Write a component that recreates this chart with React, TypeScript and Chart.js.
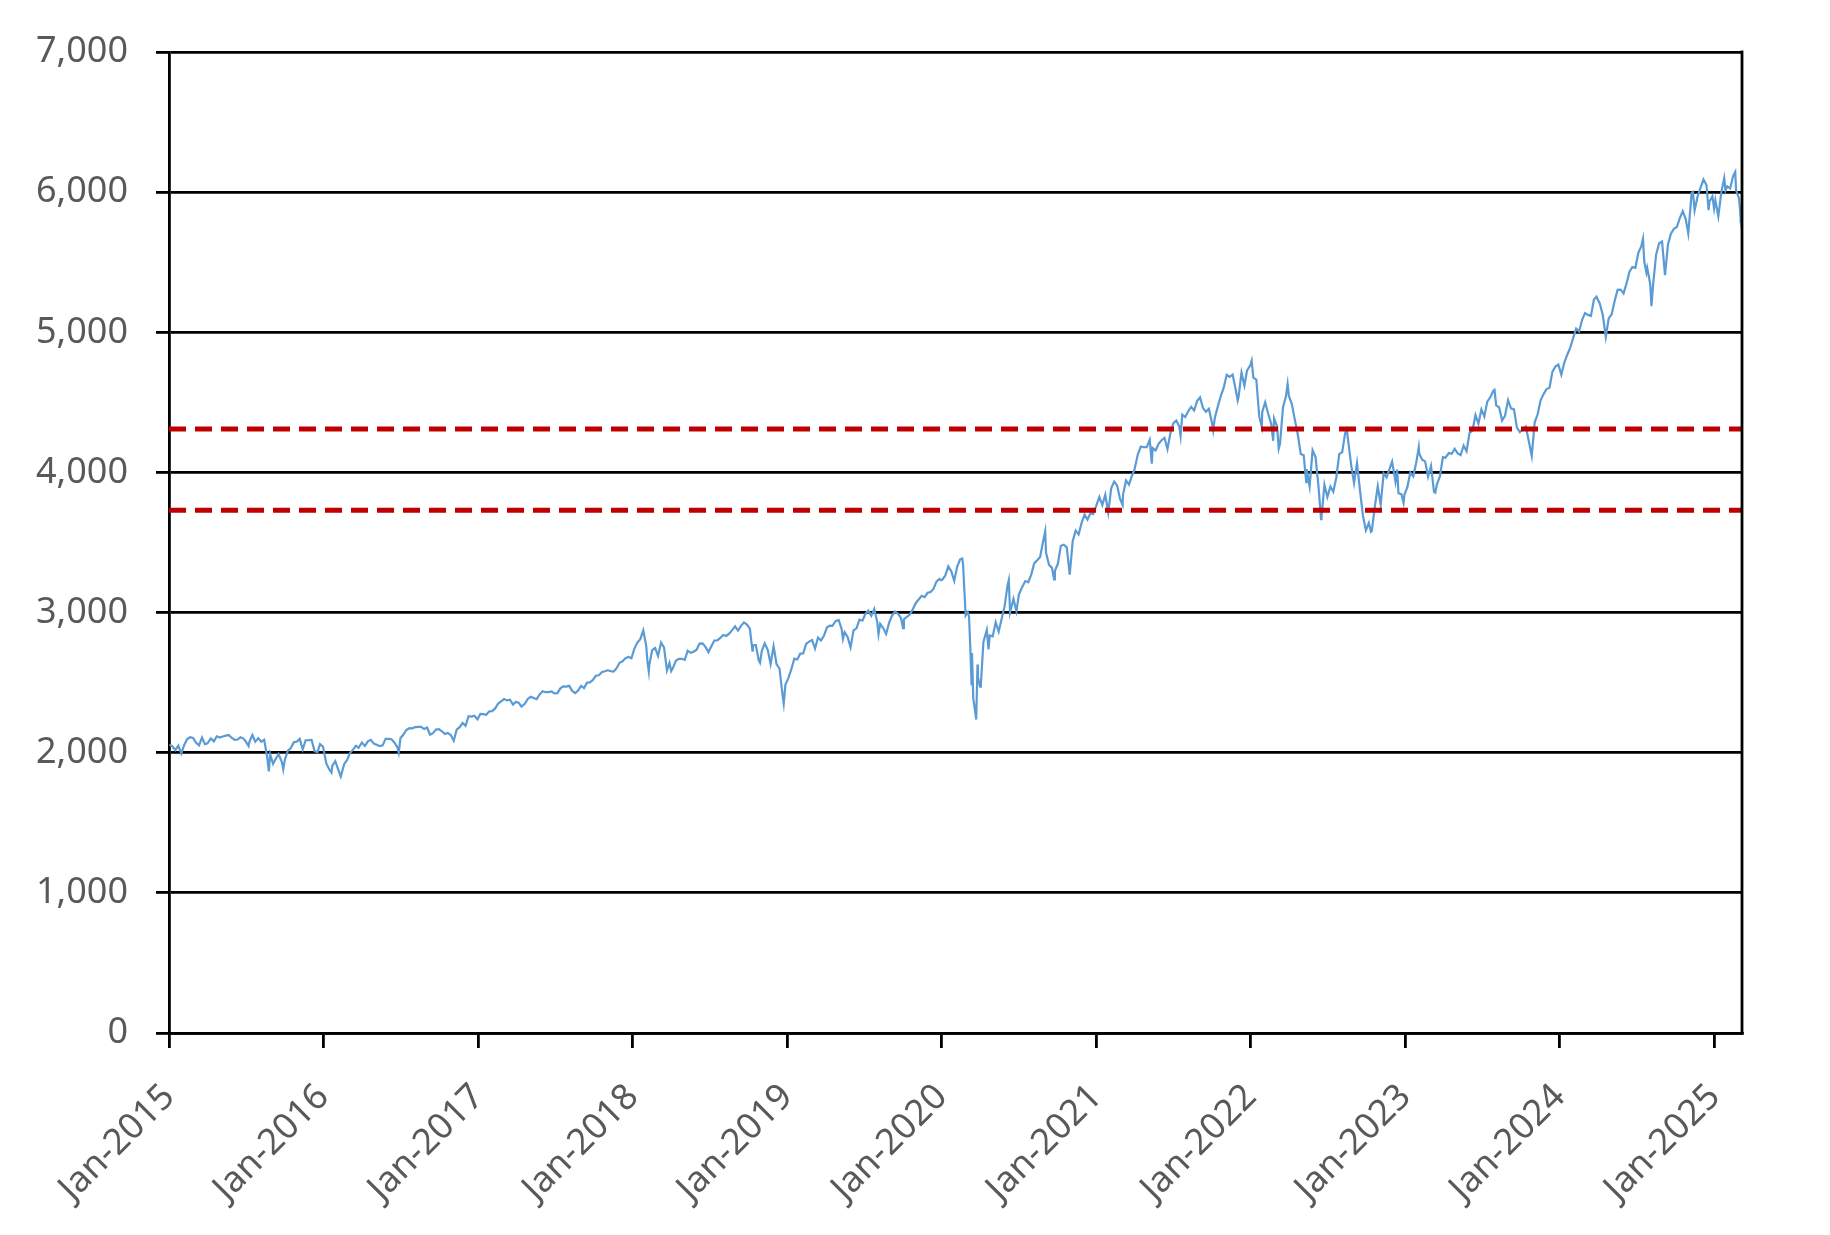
import React, { useEffect, useRef } from "react";
import { Chart, registerables } from "chart.js";

Chart.register(...registerables);

// ---- data ----
const yearTicks = [2015, 2016, 2017, 2018, 2019, 2020, 2021, 2022, 2023, 2024, 2025];
const yMin = 0;
const yMax = 7000;
const yStep = 1000;
const thresholdUpper = 4310;
const thresholdLower = 3730;
const xStart = "2015-01-01";
const xEnd = "2025-03-07";

const sp2015: [string, number][] = [
  ["2015-01-02", 2058], ["2015-01-09", 2045], ["2015-01-16", 2019], ["2015-01-23", 2051], ["2015-01-30", 1995],
  ["2015-02-06", 2055], ["2015-02-13", 2097], ["2015-02-20", 2110], ["2015-02-27", 2105], ["2015-03-06", 2071],
  ["2015-03-13", 2053], ["2015-03-20", 2108], ["2015-03-27", 2061], ["2015-04-02", 2067], ["2015-04-10", 2102],
  ["2015-04-17", 2081], ["2015-04-24", 2117], ["2015-05-01", 2108], ["2015-05-08", 2116], ["2015-05-15", 2122],
  ["2015-05-22", 2126], ["2015-05-29", 2107], ["2015-06-05", 2092], ["2015-06-12", 2094], ["2015-06-19", 2110],
  ["2015-06-26", 2101], ["2015-07-02", 2077], ["2015-07-08", 2047], ["2015-07-10", 2077], ["2015-07-17", 2126],
  ["2015-07-24", 2079], ["2015-07-31", 2104], ["2015-08-07", 2078], ["2015-08-14", 2092], ["2015-08-21", 1971],
  ["2015-08-25", 1867], ["2015-08-28", 1989], ["2015-09-04", 1921], ["2015-09-11", 1961], ["2015-09-17", 1990],
  ["2015-09-25", 1931], ["2015-09-28", 1881], ["2015-10-02", 1951], ["2015-10-09", 2015], ["2015-10-16", 2033],
  ["2015-10-23", 2075], ["2015-10-30", 2079], ["2015-11-06", 2099], ["2015-11-13", 2023], ["2015-11-20", 2089],
  ["2015-11-27", 2090], ["2015-12-04", 2092], ["2015-12-11", 2012], ["2015-12-18", 2005], ["2015-12-24", 2061],
  ["2015-12-31", 2044],
];

const sp2016: [string, number][] = [
  ["2016-01-08", 1922], ["2016-01-15", 1880], ["2016-01-20", 1859], ["2016-01-22", 1907], ["2016-01-29", 1940],
  ["2016-02-05", 1880], ["2016-02-11", 1829], ["2016-02-19", 1918], ["2016-02-26", 1948], ["2016-03-04", 1999],
  ["2016-03-11", 2022], ["2016-03-18", 2050], ["2016-03-24", 2035], ["2016-04-01", 2073], ["2016-04-08", 2048],
  ["2016-04-15", 2081], ["2016-04-22", 2092], ["2016-04-29", 2065], ["2016-05-06", 2057], ["2016-05-13", 2047],
  ["2016-05-20", 2052], ["2016-05-27", 2099], ["2016-06-03", 2099], ["2016-06-10", 2096], ["2016-06-17", 2071],
  ["2016-06-24", 2037], ["2016-06-27", 2001], ["2016-07-01", 2103], ["2016-07-08", 2130], ["2016-07-15", 2162],
  ["2016-07-22", 2175], ["2016-07-29", 2174], ["2016-08-05", 2183], ["2016-08-12", 2184], ["2016-08-19", 2184],
  ["2016-08-26", 2169], ["2016-09-02", 2180], ["2016-09-09", 2128], ["2016-09-16", 2139], ["2016-09-23", 2165],
  ["2016-09-30", 2168], ["2016-10-07", 2153], ["2016-10-14", 2133], ["2016-10-21", 2141], ["2016-10-28", 2126],
  ["2016-11-04", 2085], ["2016-11-11", 2164], ["2016-11-18", 2182], ["2016-11-25", 2213], ["2016-12-02", 2192],
  ["2016-12-09", 2260], ["2016-12-16", 2258], ["2016-12-23", 2264], ["2016-12-30", 2239],
];

const sp2017: [string, number][] = [
  ["2017-01-06", 2277], ["2017-01-13", 2275], ["2017-01-20", 2271], ["2017-01-27", 2295], ["2017-02-03", 2297],
  ["2017-02-10", 2316], ["2017-02-17", 2351], ["2017-02-24", 2367], ["2017-03-03", 2383], ["2017-03-10", 2373],
  ["2017-03-17", 2378], ["2017-03-24", 2344], ["2017-03-31", 2363], ["2017-04-07", 2355], ["2017-04-13", 2329],
  ["2017-04-21", 2349], ["2017-04-28", 2384], ["2017-05-05", 2399], ["2017-05-12", 2391], ["2017-05-19", 2382],
  ["2017-05-26", 2416], ["2017-06-02", 2439], ["2017-06-09", 2432], ["2017-06-16", 2433], ["2017-06-23", 2438],
  ["2017-06-30", 2423], ["2017-07-07", 2425], ["2017-07-14", 2459], ["2017-07-21", 2473], ["2017-07-28", 2472],
  ["2017-08-04", 2477], ["2017-08-11", 2441], ["2017-08-18", 2425], ["2017-08-25", 2443], ["2017-09-01", 2477],
  ["2017-09-08", 2461], ["2017-09-15", 2500], ["2017-09-22", 2502], ["2017-09-29", 2519], ["2017-10-06", 2549],
  ["2017-10-13", 2553], ["2017-10-20", 2575], ["2017-10-27", 2581], ["2017-11-03", 2588], ["2017-11-10", 2582],
  ["2017-11-17", 2579], ["2017-11-24", 2603], ["2017-12-01", 2642], ["2017-12-08", 2652], ["2017-12-15", 2675],
  ["2017-12-22", 2683], ["2017-12-29", 2674],
];

const sp2018: [string, number][] = [
  ["2018-01-05", 2743], ["2018-01-12", 2786], ["2018-01-19", 2810], ["2018-01-26", 2873], ["2018-02-02", 2762],
  ["2018-02-05", 2649], ["2018-02-08", 2581], ["2018-02-09", 2620], ["2018-02-16", 2732], ["2018-02-23", 2747],
  ["2018-03-02", 2691], ["2018-03-09", 2786], ["2018-03-16", 2752], ["2018-03-23", 2588], ["2018-03-29", 2641],
  ["2018-04-02", 2582], ["2018-04-06", 2604], ["2018-04-13", 2656], ["2018-04-20", 2670], ["2018-04-27", 2670],
  ["2018-05-04", 2663], ["2018-05-11", 2728], ["2018-05-18", 2713], ["2018-05-25", 2721], ["2018-06-01", 2735],
  ["2018-06-08", 2779], ["2018-06-15", 2780], ["2018-06-22", 2755], ["2018-06-29", 2718], ["2018-07-06", 2760],
  ["2018-07-13", 2801], ["2018-07-20", 2802], ["2018-07-27", 2819], ["2018-08-03", 2840], ["2018-08-10", 2833],
  ["2018-08-17", 2850], ["2018-08-24", 2875], ["2018-08-31", 2902], ["2018-09-07", 2872], ["2018-09-14", 2905],
  ["2018-09-21", 2930], ["2018-09-28", 2914], ["2018-10-05", 2885], ["2018-10-11", 2728], ["2018-10-12", 2767],
  ["2018-10-19", 2768], ["2018-10-26", 2658], ["2018-10-29", 2641], ["2018-11-02", 2723], ["2018-11-09", 2781],
  ["2018-11-16", 2736], ["2018-11-23", 2633], ["2018-11-30", 2760], ["2018-12-07", 2633], ["2018-12-14", 2600],
  ["2018-12-21", 2417], ["2018-12-24", 2351], ["2018-12-28", 2486],
];

const sp2019: [string, number][] = [
  ["2019-01-04", 2532], ["2019-01-11", 2596], ["2019-01-18", 2671], ["2019-01-25", 2665], ["2019-02-01", 2707],
  ["2019-02-08", 2708], ["2019-02-15", 2776], ["2019-02-22", 2793], ["2019-03-01", 2804], ["2019-03-08", 2743],
  ["2019-03-15", 2822], ["2019-03-22", 2801], ["2019-03-29", 2834], ["2019-04-05", 2893], ["2019-04-12", 2907],
  ["2019-04-18", 2905], ["2019-04-26", 2940], ["2019-05-03", 2946], ["2019-05-10", 2881], ["2019-05-13", 2812],
  ["2019-05-17", 2860], ["2019-05-24", 2826], ["2019-05-31", 2752], ["2019-06-07", 2873], ["2019-06-14", 2887],
  ["2019-06-21", 2950], ["2019-06-28", 2942], ["2019-07-05", 2990], ["2019-07-12", 3014], ["2019-07-19", 2977],
  ["2019-07-26", 3026], ["2019-08-02", 2932], ["2019-08-05", 2845], ["2019-08-09", 2919], ["2019-08-16", 2889],
  ["2019-08-23", 2847], ["2019-08-30", 2926], ["2019-09-06", 2979], ["2019-09-13", 3007], ["2019-09-20", 2992],
  ["2019-09-27", 2962], ["2019-10-02", 2888], ["2019-10-04", 2952], ["2019-10-11", 2970], ["2019-10-18", 2986],
  ["2019-10-25", 3023], ["2019-11-01", 3067], ["2019-11-08", 3093], ["2019-11-15", 3120], ["2019-11-22", 3110],
  ["2019-11-29", 3141], ["2019-12-06", 3146], ["2019-12-13", 3169], ["2019-12-20", 3221], ["2019-12-27", 3240],
  ["2019-12-31", 3231],
];

const sp2020: [string, number][] = [
  ["2020-01-03", 3235], ["2020-01-10", 3265], ["2020-01-17", 3330], ["2020-01-24", 3295], ["2020-01-31", 3226],
  ["2020-02-07", 3328], ["2020-02-14", 3380], ["2020-02-19", 3386], ["2020-02-21", 3338], ["2020-02-27", 2979],
  ["2020-03-03", 3003], ["2020-03-06", 2972], ["2020-03-09", 2747], ["2020-03-12", 2481], ["2020-03-13", 2711],
  ["2020-03-16", 2386], ["2020-03-20", 2305], ["2020-03-23", 2237], ["2020-03-26", 2630], ["2020-03-27", 2541],
  ["2020-04-01", 2471], ["2020-04-03", 2489], ["2020-04-09", 2790], ["2020-04-17", 2875], ["2020-04-21", 2737],
  ["2020-04-24", 2837], ["2020-05-01", 2831], ["2020-05-08", 2930], ["2020-05-15", 2864], ["2020-05-22", 2955],
  ["2020-05-29", 3044], ["2020-06-05", 3194], ["2020-06-08", 3232], ["2020-06-11", 3002], ["2020-06-19", 3098],
  ["2020-06-26", 3009], ["2020-07-02", 3130], ["2020-07-10", 3185], ["2020-07-17", 3225], ["2020-07-24", 3216],
  ["2020-07-31", 3271], ["2020-08-07", 3351], ["2020-08-14", 3373], ["2020-08-21", 3397], ["2020-08-28", 3508],
  ["2020-09-02", 3580], ["2020-09-04", 3427], ["2020-09-11", 3341], ["2020-09-18", 3319], ["2020-09-23", 3237],
  ["2020-09-25", 3298], ["2020-10-02", 3348], ["2020-10-09", 3477], ["2020-10-16", 3484], ["2020-10-23", 3465],
  ["2020-10-30", 3270], ["2020-11-06", 3510], ["2020-11-13", 3585], ["2020-11-20", 3558], ["2020-11-27", 3638],
  ["2020-12-04", 3699], ["2020-12-11", 3663], ["2020-12-18", 3710], ["2020-12-24", 3703], ["2020-12-31", 3756],
];

const sp2021: [string, number][] = [
  ["2021-01-08", 3825], ["2021-01-15", 3768], ["2021-01-22", 3841], ["2021-01-29", 3714], ["2021-02-05", 3887],
  ["2021-02-12", 3935], ["2021-02-19", 3907], ["2021-02-26", 3811], ["2021-03-04", 3768], ["2021-03-05", 3842],
  ["2021-03-12", 3943], ["2021-03-19", 3913], ["2021-03-26", 3975], ["2021-04-01", 4020], ["2021-04-09", 4129],
  ["2021-04-16", 4185], ["2021-04-23", 4180], ["2021-04-30", 4181], ["2021-05-07", 4233], ["2021-05-12", 4063],
  ["2021-05-14", 4174], ["2021-05-21", 4156], ["2021-05-28", 4204], ["2021-06-04", 4230], ["2021-06-11", 4247],
  ["2021-06-18", 4166], ["2021-06-25", 4281], ["2021-07-02", 4352], ["2021-07-09", 4370], ["2021-07-16", 4327],
  ["2021-07-19", 4259], ["2021-07-23", 4412], ["2021-07-30", 4395], ["2021-08-06", 4437], ["2021-08-13", 4468],
  ["2021-08-20", 4442], ["2021-08-27", 4509], ["2021-09-03", 4535], ["2021-09-10", 4459], ["2021-09-17", 4433],
  ["2021-09-24", 4455], ["2021-10-01", 4357], ["2021-10-04", 4300], ["2021-10-08", 4391], ["2021-10-15", 4471],
  ["2021-10-22", 4545], ["2021-10-29", 4605], ["2021-11-05", 4697], ["2021-11-12", 4682], ["2021-11-19", 4698],
  ["2021-11-26", 4595], ["2021-12-01", 4513], ["2021-12-03", 4538], ["2021-12-10", 4712], ["2021-12-17", 4620],
  ["2021-12-23", 4726], ["2021-12-31", 4766],
];

const sp2022: [string, number][] = [
  ["2022-01-03", 4797], ["2022-01-07", 4677], ["2022-01-14", 4663], ["2022-01-21", 4398], ["2022-01-27", 4327],
  ["2022-01-28", 4432], ["2022-02-04", 4501], ["2022-02-11", 4419], ["2022-02-18", 4349], ["2022-02-23", 4226],
  ["2022-02-25", 4385], ["2022-03-04", 4329], ["2022-03-08", 4170], ["2022-03-11", 4204], ["2022-03-18", 4463],
  ["2022-03-25", 4543], ["2022-03-29", 4632], ["2022-04-01", 4546], ["2022-04-08", 4488], ["2022-04-14", 4393],
  ["2022-04-22", 4272], ["2022-04-29", 4132], ["2022-05-06", 4123], ["2022-05-12", 3930], ["2022-05-13", 4023],
  ["2022-05-20", 3901], ["2022-05-27", 4158], ["2022-06-03", 4109], ["2022-06-10", 3901], ["2022-06-16", 3667],
  ["2022-06-17", 3675], ["2022-06-24", 3912], ["2022-07-01", 3825], ["2022-07-08", 3899], ["2022-07-15", 3863],
  ["2022-07-22", 3962], ["2022-07-29", 4130], ["2022-08-05", 4145], ["2022-08-12", 4280], ["2022-08-16", 4305],
  ["2022-08-19", 4228], ["2022-08-26", 4058], ["2022-09-02", 3924], ["2022-09-09", 4067], ["2022-09-16", 3873],
  ["2022-09-23", 3693], ["2022-09-30", 3586], ["2022-10-07", 3640], ["2022-10-12", 3577], ["2022-10-14", 3583],
  ["2022-10-21", 3752], ["2022-10-28", 3901], ["2022-11-04", 3771], ["2022-11-11", 3993], ["2022-11-18", 3965],
  ["2022-11-25", 4026], ["2022-12-01", 4077], ["2022-12-09", 3934], ["2022-12-13", 4020], ["2022-12-16", 3852],
  ["2022-12-23", 3845], ["2022-12-28", 3783], ["2022-12-30", 3840],
];

const sp2023: [string, number][] = [
  ["2023-01-06", 3895], ["2023-01-13", 3999], ["2023-01-20", 3973], ["2023-01-27", 4070], ["2023-02-02", 4180],
  ["2023-02-03", 4136], ["2023-02-10", 4090], ["2023-02-17", 4079], ["2023-02-24", 3970], ["2023-03-03", 4046],
  ["2023-03-10", 3862], ["2023-03-13", 3856], ["2023-03-17", 3917], ["2023-03-24", 3971], ["2023-03-31", 4109],
  ["2023-04-06", 4105], ["2023-04-14", 4138], ["2023-04-21", 4133], ["2023-04-28", 4169], ["2023-05-05", 4136],
  ["2023-05-12", 4124], ["2023-05-19", 4192], ["2023-05-26", 4151], ["2023-06-02", 4282], ["2023-06-09", 4299],
  ["2023-06-16", 4410], ["2023-06-23", 4348], ["2023-06-30", 4450], ["2023-07-07", 4399], ["2023-07-14", 4505],
  ["2023-07-21", 4536], ["2023-07-28", 4582], ["2023-07-31", 4589], ["2023-08-04", 4478], ["2023-08-11", 4464],
  ["2023-08-18", 4370], ["2023-08-25", 4406], ["2023-09-01", 4516], ["2023-09-08", 4457], ["2023-09-15", 4450],
  ["2023-09-22", 4320], ["2023-09-29", 4288], ["2023-10-06", 4309], ["2023-10-13", 4327], ["2023-10-20", 4224],
  ["2023-10-27", 4117], ["2023-11-03", 4358], ["2023-11-10", 4415], ["2023-11-17", 4514], ["2023-11-24", 4559],
  ["2023-12-01", 4595], ["2023-12-08", 4604], ["2023-12-15", 4719], ["2023-12-22", 4755], ["2023-12-29", 4770],
];

const sp2024: [string, number][] = [
  ["2024-01-05", 4697], ["2024-01-12", 4784], ["2024-01-19", 4840], ["2024-01-26", 4891], ["2024-02-02", 4959],
  ["2024-02-09", 5027], ["2024-02-16", 5006], ["2024-02-23", 5089], ["2024-03-01", 5137], ["2024-03-08", 5124],
  ["2024-03-15", 5117], ["2024-03-22", 5234], ["2024-03-28", 5254], ["2024-04-05", 5204], ["2024-04-12", 5123],
  ["2024-04-19", 4967], ["2024-04-26", 5100], ["2024-05-03", 5128], ["2024-05-10", 5223], ["2024-05-17", 5303],
  ["2024-05-24", 5305], ["2024-05-31", 5278], ["2024-06-07", 5347], ["2024-06-14", 5432], ["2024-06-21", 5465],
  ["2024-06-28", 5460], ["2024-07-05", 5567], ["2024-07-12", 5615], ["2024-07-16", 5667], ["2024-07-19", 5505],
  ["2024-07-24", 5427], ["2024-07-26", 5459], ["2024-08-02", 5346], ["2024-08-05", 5186], ["2024-08-09", 5344],
  ["2024-08-16", 5554], ["2024-08-23", 5634], ["2024-08-30", 5648], ["2024-09-06", 5408], ["2024-09-13", 5626],
  ["2024-09-20", 5703], ["2024-09-27", 5738], ["2024-10-04", 5751], ["2024-10-11", 5815], ["2024-10-18", 5864],
  ["2024-10-25", 5808], ["2024-10-31", 5705], ["2024-11-08", 5995], ["2024-11-11", 6001], ["2024-11-15", 5870],
  ["2024-11-22", 5969], ["2024-11-29", 6032], ["2024-12-06", 6090], ["2024-12-13", 6051], ["2024-12-18", 5872],
  ["2024-12-20", 5931], ["2024-12-27", 5971], ["2024-12-31", 5882],
];

const sp2025: [string, number][] = [
  ["2025-01-03", 5942], ["2025-01-10", 5827], ["2025-01-17", 5997], ["2025-01-24", 6101], ["2025-01-27", 6012],
  ["2025-01-31", 6041], ["2025-02-07", 6026], ["2025-02-14", 6115], ["2025-02-19", 6144], ["2025-02-21", 6013],
  ["2025-02-28", 5955], ["2025-03-03", 5850], ["2025-03-04", 5778], ["2025-03-05", 5842], ["2025-03-06", 5739],
  ["2025-03-07", 5770],
];

// ---- helpers ----
const dayNum = (s: string) => Date.parse(s + "T00:00:00Z") / 86400000;
const seriesPoints = [...sp2015, ...sp2016, ...sp2017, ...sp2018, ...sp2019, ...sp2020, ...sp2021, ...sp2022, ...sp2023, ...sp2024, ...sp2025]
  .map(([d, v]) => ({ x: dayNum(d), y: v }));

const LABEL_FONT = { family: "'Noto Sans', sans-serif", size: 36 };
const LABEL_COLOR = "#595959";
const AXIS_COLOR = "#000000";
const GRID_WIDTH = 2.8;

const rightBorderPlugin = {
  id: "rightBorder",
  afterDatasetsDraw(chart: any) {
    const { ctx, chartArea } = chart;
    ctx.save();
    ctx.strokeStyle = AXIS_COLOR;
    ctx.lineWidth = GRID_WIDTH;
    ctx.beginPath();
    ctx.moveTo(chartArea.right, chartArea.top - GRID_WIDTH / 2);
    ctx.lineTo(chartArea.right, chartArea.bottom + GRID_WIDTH / 2);
    ctx.stroke();
    ctx.restore();
  },
};

export default function App() {
  const canvasRef = useRef<HTMLCanvasElement | null>(null);

  useEffect(() => {
    if (!canvasRef.current) return;
    const x0 = dayNum(xStart);
    const x1 = dayNum(xEnd);
    const chart = new Chart(canvasRef.current, {
      type: "line",
      data: {
        datasets: [
          {
            label: "upper",
            data: [{ x: x0, y: thresholdUpper }, { x: x1, y: thresholdUpper }],
            borderColor: "#C00000",
            borderWidth: 5,
            borderDash: [17, 9],
            pointRadius: 0,
            order: 0,
          },
          {
            label: "lower",
            data: [{ x: x0, y: thresholdLower }, { x: x1, y: thresholdLower }],
            borderColor: "#C00000",
            borderWidth: 5,
            borderDash: [17, 9],
            pointRadius: 0,
            order: 0,
          },
          {
            label: "S&P 500",
            data: seriesPoints,
            borderColor: "#5B9BD5",
            borderWidth: 2.2,
            pointRadius: 0,
            tension: 0,
            order: 1,
          },
        ],
      },
      options: {
        animation: false,
        responsive: false,
        devicePixelRatio: 1,
        layout: { padding: { left: 0, top: 52, right: 88, bottom: 0 } },
        plugins: { legend: { display: false }, tooltip: { enabled: false } },
        scales: {
          x: {
            type: "linear",
            min: x0,
            max: x1,
            afterBuildTicks: (scale: any) => {
              scale.ticks = yearTicks.map((y) => ({ value: dayNum(`${y}-01-01`) }));
            },
            afterFit: (scale: any) => {
              scale.height = 1235 - 1033;
            },
            ticks: {
              autoSkip: false,
              minRotation: 45,
              maxRotation: 45,
              padding: 28,
              color: LABEL_COLOR,
              font: LABEL_FONT,
              callback: (v: any) => "Jan-" + new Date(Number(v) * 86400000).getUTCFullYear(),
            },
            grid: {
              drawOnChartArea: false,
              drawTicks: true,
              tickLength: 15,
              color: AXIS_COLOR,
              lineWidth: GRID_WIDTH,
            },
            border: { display: true, color: AXIS_COLOR, width: GRID_WIDTH },
          },
          y: {
            min: yMin,
            max: yMax,
            afterFit: (scale: any) => {
              scale.width = 169;
            },
            ticks: {
              stepSize: yStep,
              padding: 28,
              color: LABEL_COLOR,
              font: LABEL_FONT,
              callback: (v: any) => Number(v).toLocaleString("en-US"),
            },
            grid: {
              drawTicks: true,
              tickLength: 13,
              color: AXIS_COLOR,
              lineWidth: GRID_WIDTH,
            },
            border: { display: true, color: AXIS_COLOR, width: GRID_WIDTH },
          },
        },
      },
      plugins: [rightBorderPlugin],
    });
    return () => chart.destroy();
  }, []);

  return (
    <div style={{ position: "absolute", left: 0, top: 0, width: 1830, height: 1235, background: "#fff" }}>
      <canvas ref={canvasRef} width={1830} height={1235} style={{ width: 1830, height: 1235 }} />
    </div>
  );
}
